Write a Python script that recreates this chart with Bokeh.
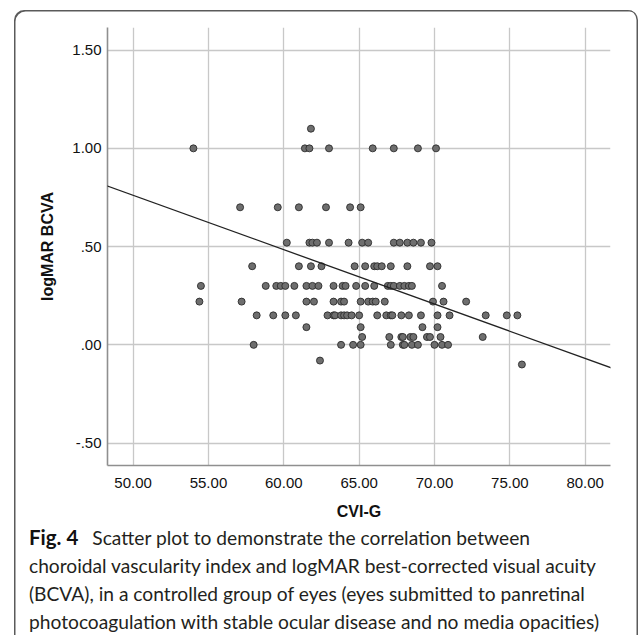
import numpy as np
from bokeh.plotting import figure
from bokeh.layouts import column
from bokeh.models import FixedTicker, Slope, Range1d, ColumnDataSource, Div
from bokeh.embed import file_html
from bokeh.resources import INLINE

# logMAR levels and CVI-G values read at each level
lm_110, cvi_110 = 1.10, [61.8]
lm_100, cvi_100 = 1.00, [54.0, 61.4, 61.7, 63.0, 65.9, 67.3, 68.9, 70.1]
lm_070, cvi_070 = 0.70, [57.1, 59.6, 61.0, 62.8, 64.4, 65.1]
lm_052, cvi_052 = 0.52, [60.2, 61.7, 61.9, 62.2, 63.0, 64.3, 65.2, 65.6, 67.3, 67.7, 68.2, 68.6, 69.1, 69.8]
lm_040, cvi_040 = 0.40, [57.9, 61.0, 61.8, 62.5, 64.7, 65.4, 66.0, 66.2, 66.5, 67.1, 68.2, 69.7, 70.2]
lm_030, cvi_030 = 0.30, [54.5, 58.8, 59.5, 59.8, 60.1, 60.7, 61.5, 61.9, 62.3, 63.3, 63.9, 64.1, 64.8,
                         65.4, 66.0, 66.9, 67.1, 67.3, 67.7, 68.0, 68.3, 68.5, 70.5]
lm_022, cvi_022 = 0.22, [54.4, 57.2, 61.5, 62.0, 63.3, 63.8, 64.0, 65.1, 65.6, 65.9, 66.1, 66.7, 69.9, 70.6, 72.1]
lm_015, cvi_015 = 0.15, [58.2, 59.3, 60.1, 60.8, 62.9, 63.3, 63.4, 63.8, 64.0, 64.2, 64.5, 65.0, 66.2, 66.8,
                         67.1, 67.2, 67.8, 68.3, 69.1, 70.2, 71.0, 73.4, 74.8, 75.5]
lm_009, cvi_009 = 0.09, [61.5, 65.1, 69.2, 70.2]
lm_004, cvi_004 = 0.04, [65.2, 67.0, 67.8, 67.9, 68.4, 68.6, 69.5, 69.7, 70.4, 73.2]
lm_000, cvi_000 = 0.00, [58.0, 63.8, 64.6, 65.1, 67.1, 67.9, 68.0, 68.5, 68.9, 70.0, 70.5, 70.9]
lm_m008, cvi_m008 = -0.08, [62.4]
lm_m010, cvi_m010 = -0.10, [75.8]

# fit line
fit_intercept = 2.1445
fit_slope = -0.02767

x_ticks = [50, 55, 60, 65, 70, 75, 80]
x_tick_labels = ["50.00", "55.00", "60.00", "65.00", "70.00", "75.00", "80.00"]
y_ticks = [-0.5, 0.0, 0.5, 1.0, 1.5]
y_tick_labels = ["-.50", ".00", ".50", "1.00", "1.50"]

caption_bold = "Fig. 4"
caption_lines = [
    "Scatter plot to demonstrate the correlation between",
    "choroidal vascularity index and logMAR best-corrected visual acuity",
    "(BCVA), in a controlled group of eyes (eyes submitted to panretinal",
    "photocoagulation with stable ocular disease and no media opacities)",
]

rows = [(lm_110, cvi_110), (lm_100, cvi_100), (lm_070, cvi_070), (lm_052, cvi_052),
        (lm_040, cvi_040), (lm_030, cvi_030), (lm_022, cvi_022), (lm_015, cvi_015),
        (lm_009, cvi_009), (lm_004, cvi_004), (lm_000, cvi_000), (lm_m008, cvi_m008),
        (lm_m010, cvi_m010)]
cvi_g = []
logmar = []
for lm, xs in rows:
    cvi_g.extend(xs)
    logmar.extend([lm] * len(xs))
src = ColumnDataSource(dict(x=cvi_g, y=logmar))

W = 624
H1 = 513
p = figure(width=W, height=H1, output_backend="svg", toolbar_location=None,
           x_range=Range1d(48.3, 81.68), y_range=Range1d(-0.614, 1.615),
           min_border_left=93, min_border_right=28, min_border_top=17, min_border_bottom=58,
           outline_line_color=None, background_fill_color="white", border_fill_color=None)

p.xaxis.ticker = FixedTicker(ticks=x_ticks)
p.yaxis.ticker = FixedTicker(ticks=y_ticks)
p.xaxis.major_label_overrides = {t: l for t, l in zip(x_ticks, x_tick_labels)}
p.yaxis.major_label_overrides = {t: l for t, l in zip(y_ticks, y_tick_labels)}
p.xaxis.axis_label = "CVI-G"
p.yaxis.axis_label = "logMAR BCVA"

for ax in (p.xaxis, p.yaxis):
    ax.axis_line_color = "#8f8f8f"
    ax.axis_line_width = 1.6
    ax.major_tick_line_color = None
    ax.minor_tick_line_color = None
    ax.major_tick_out = 0
    ax.major_tick_in = 0
    ax.minor_tick_out = 0
    ax.major_label_text_font = "Liberation Sans"
    ax.major_label_text_font_size = "15px"
    ax.major_label_text_color = "#111111"
    ax.axis_label_text_font = "Liberation Sans"
    ax.axis_label_text_font_size = "16px"
    ax.axis_label_text_font_style = "bold"
    ax.axis_label_text_color = "#111111"

p.xaxis.major_label_standoff = 12
p.yaxis.major_label_standoff = 6
p.xaxis.axis_label_standoff = 12
p.yaxis.axis_label_standoff = 13

p.xgrid.grid_line_color = "#c8c8c8"
p.ygrid.grid_line_color = "#c8c8c8"
p.xgrid.grid_line_width = 1.3
p.ygrid.grid_line_width = 1.3

p.add_layout(Slope(gradient=fit_slope, y_intercept=fit_intercept,
                   line_color="#222222", line_width=1.3))

p.scatter("x", "y", source=src, size=7.0, fill_color="#6e6e6e",
          line_color="#2b2b2b", line_width=0.9)

# caption below the chart
cap_html = (
    '<div style="margin:0 0 0 15px; padding:0; font-family:Lato; font-size:19.2px; '
    'line-height:28px; color:#231f20; white-space:nowrap;">'
    '<span style="font-weight:bold; font-size:20.5px; color:#111111;">' + caption_bold + '</span>'
    '<span style="display:inline-block; width:14px;"></span>' + caption_lines[0] + '<br>'
    + '<br>'.join(caption_lines[1:]) + '</div>'
)
cap = Div(text=cap_html, width=W, height=635 - 10 - H1, margin=(0, 0, 0, 0))

layout = column(p, cap, spacing=0, margin=(10, 0, 0, 14),
                styles={"box-shadow": "inset 1.5px 1.5px 0 0 #5a5a5a, inset -1.5px 0 0 0 #5a5a5a",
                        "border-radius": "10px 10px 0 0"})

open("out.html", "w").write(file_html(layout, INLINE))
